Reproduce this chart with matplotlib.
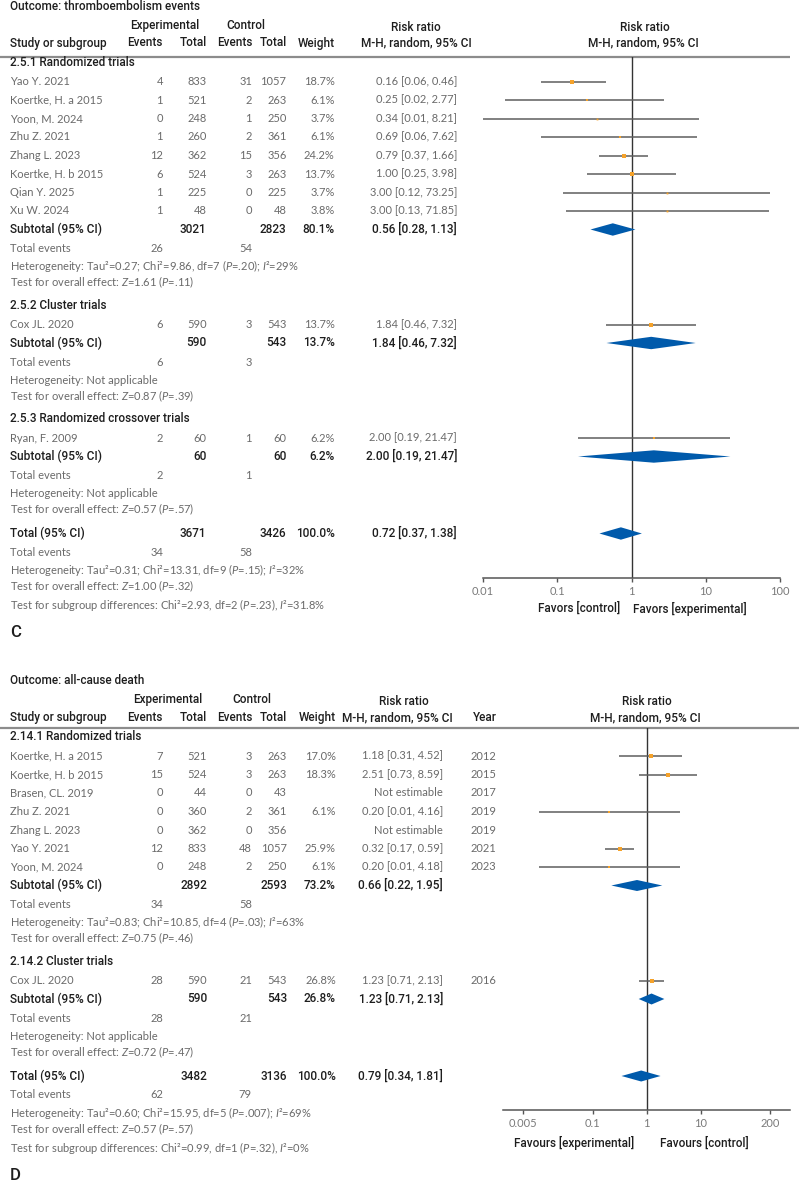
import numpy as np
import matplotlib
matplotlib.use("Agg")
import matplotlib.pyplot as plt

plt.rcParams['mathtext.fontset'] = 'custom'
plt.rcParams['mathtext.rm'] = 'Lato:weight=normal'
plt.rcParams['mathtext.it'] = 'Lato:style=italic:weight=normal'
plt.rcParams['mathtext.bf'] = 'Lato:weight=bold'

# ---------------- Panel C: thromboembolism events ----------------
c_outcome = "Outcome: thromboembolism events"
c_subgroups = ["2.5.1 Randomized trials", "2.5.2 Cluster trials", "2.5.3 Randomized crossover trials"]
c_group_sizes = [8, 1, 1]
c_studies = ["Yao Y. 2021", "Koertke, H. a 2015", "Yoon, M. 2024", "Zhu Z. 2021", "Zhang L. 2023",
             "Koertke, H. b 2015", "Qian Y. 2025", "Xu W. 2024", "Cox JL. 2020", "Ryan, F. 2009"]
c_exp_events = [4, 1, 0, 1, 12, 6, 1, 1, 6, 2]
c_exp_total = [833, 521, 248, 260, 362, 524, 225, 48, 590, 60]
c_ctl_events = [31, 2, 1, 2, 15, 3, 0, 0, 3, 1]
c_ctl_total = [1057, 263, 250, 361, 356, 263, 225, 48, 543, 60]
c_weight = [18.7, 6.1, 3.7, 6.1, 24.2, 13.7, 3.7, 3.8, 13.7, 6.2]
c_rr = [0.16, 0.25, 0.34, 0.69, 0.79, 1.00, 3.00, 3.00, 1.84, 2.00]
c_lo = [0.06, 0.02, 0.01, 0.06, 0.37, 0.25, 0.12, 0.13, 0.46, 0.19]
c_hi = [0.46, 2.77, 8.21, 7.62, 1.66, 3.98, 73.25, 71.85, 7.32, 21.47]
c_sub_exp_events = [26, 6, 2]
c_sub_ctl_events = [54, 3, 1]
c_sub_exp_total = [3021, 590, 60]
c_sub_ctl_total = [2823, 543, 60]
c_sub_weight = [80.1, 13.7, 6.2]
c_sub_rr = [0.56, 1.84, 2.00]
c_sub_lo = [0.28, 0.46, 0.19]
c_sub_hi = [1.13, 7.32, 21.47]
c_sub_het = ["Heterogeneity: Tau²=0.27; Chi²=9.86, df=7 ($P$=.20); $I$²=29%",
             "Heterogeneity: Not applicable", "Heterogeneity: Not applicable"]
c_sub_z = ["Test for overall effect: $Z$=1.61 ($P$=.11)",
           "Test for overall effect: $Z$=0.87 ($P$=.39)",
           "Test for overall effect: $Z$=0.57 ($P$=.57)"]
c_tot = [34, 3671, 58, 3426, 100.0, 0.72, 0.37, 1.38]
c_tot_het = "Heterogeneity: Tau²=0.31; Chi²=13.31, df=9 ($P$=.15); $I$²=32%"
c_tot_z = "Test for overall effect: $Z$=1.00 ($P$=.32)"
c_tot_sub = "Test for subgroup differences: Chi²=2.93, df=2 ($P$=.23), $I$²=31.8%"
c_ticks = [0.01, 0.1, 1, 10, 100]
c_tick_labels = ["0.01", "0.1", "1", "10", "100"]
c_favours = ["Favors [control]", "Favors [experimental]"]

# ---------------- Panel D: all-cause death ----------------
d_outcome = "Outcome: all-cause death"
d_subgroups = ["2.14.1 Randomized trials", "2.14.2 Cluster trials"]
d_group_sizes = [7, 1]
d_studies = ["Koertke, H. a 2015", "Koertke, H. b 2015", "Brasen, CL. 2019", "Zhu Z. 2021",
             "Zhang L. 2023", "Yao Y. 2021", "Yoon, M. 2024", "Cox JL. 2020"]
d_exp_events = [7, 15, 0, 0, 0, 12, 0, 28]
d_exp_total = [521, 524, 44, 360, 362, 833, 248, 590]
d_ctl_events = [3, 3, 0, 2, 0, 48, 2, 21]
d_ctl_total = [263, 263, 43, 361, 356, 1057, 250, 543]
d_weight = [17.0, 18.3, np.nan, 6.1, np.nan, 25.9, 6.1, 26.8]
d_rr = [1.18, 2.51, np.nan, 0.20, np.nan, 0.32, 0.20, 1.23]
d_lo = [0.31, 0.73, np.nan, 0.01, np.nan, 0.17, 0.01, 0.71]
d_hi = [4.52, 8.59, np.nan, 4.16, np.nan, 0.59, 4.18, 2.13]
d_year = [2012, 2015, 2017, 2019, 2019, 2021, 2023, 2016]
d_sub_exp_events = [34, 28]
d_sub_ctl_events = [58, 21]
d_sub_exp_total = [2892, 590]
d_sub_ctl_total = [2593, 543]
d_sub_weight = [73.2, 26.8]
d_sub_rr = [0.66, 1.23]
d_sub_lo = [0.22, 0.71]
d_sub_hi = [1.95, 2.13]
d_sub_het = ["Heterogeneity: Tau²=0.83; Chi²=10.85, df=4 ($P$=.03); $I$²=63%",
             "Heterogeneity: Not applicable"]
d_sub_z = ["Test for overall effect: $Z$=0.75 ($P$=.46)",
           "Test for overall effect: $Z$=0.72 ($P$=.47)"]
d_tot = [62, 3482, 79, 3136, 100.0, 0.79, 0.34, 1.81]
d_tot_het = "Heterogeneity: Tau²=0.60; Chi²=15.95, df=5 ($P$=.007); $I$²=69%"
d_tot_z = "Test for overall effect: $Z$=0.57 ($P$=.57)"
d_tot_sub = "Test for subgroup differences: Chi²=0.99, df=1 ($P$=.32), $I$²=0%"
d_ticks = [0.005, 0.1, 1, 10, 200]
d_tick_labels = ["0.005", "0.1", "1", "10", "200"]
d_favours = ["Favours [experimental]", "Favours [control]"]

W, H = 799, 1186
BODY = dict(family='Lato', weight='normal', color='#6a6a6a', size=8.0)
HEAD = dict(family='Roboto', weight='medium', color='#1e1e1e', size=8.5)
SQ = '#f5a22a'
DIA = '#005aab'

fig = plt.figure(figsize=(W / 100, H / 100), dpi=100)
bg = fig.add_axes([0, 0, 1, 1])
bg.set_xlim(0, W)
bg.set_ylim(H, 0)
bg.axis('off')


def txt(x, y, s, style, ha='left'):
    bg.text(x, y, s, ha=ha, va='center', **style)


def rr_str(r, lo, hi):
    if np.isnan(r):
        return "Not estimable"
    return f"{r:.2f} [{lo:.2f}, {hi:.2f}]"


def diamond(ax, y, r, lo, hi, h):
    ax.fill([lo, r, hi, r], [y, y - h, y, y + h], color=DIA, lw=0, zorder=3)


def draw_panel(d, lay):
    col = lay['cols']
    txt(10, lay['title'], d['outcome'], HEAD)
    txt(lay['exp_hdr'], lay['h1'], "Experimental", HEAD, ha='center')
    txt(lay['ctl_hdr'], lay['h1'], "Control", HEAD, ha='center')
    txt(lay['rr_hdr'], lay['h1'] + 2, "Risk ratio", HEAD, ha='center')
    txt(lay['mh_hdr'], lay['h2'], "M-H, random, 95% CI", HEAD, ha='center')
    txt(10, lay['h2'], "Study or subgroup", HEAD)
    for key, lab in [('ee', 'Events'), ('et', 'Total'), ('ce', 'Events'), ('ct', 'Total'), ('w', 'Weight')]:
        txt(col[key], lay['h2'], lab, HEAD, ha='right')
    if d['year'] is not None:
        txt(lay['year_x'] + 14, lay['h2'], "Year", HEAD, ha='center')
    l, r, t, b = lay['forest']
    txt(lay['plot_hdr'], lay['h1'] + 2, "Risk ratio", HEAD, ha='center')
    txt(lay['plot_hdr'] - 2, lay['h2'], "M-H, random, 95% CI", HEAD, ha='center')
    bg.hlines(lay['hline'], 0, lay['hline_end'], color='#8c8c8c', lw=1.6)

    fa = fig.add_axes([l / W, 1 - b / H, (r - l) / W, (b - t) / H])
    fa.set_xscale('log')
    fa.set_xlim(*lay['xlim'])
    fa.set_ylim(b, t)
    fa.patch.set_alpha(0)
    for s in ['left', 'right', 'top']:
        fa.spines[s].set_visible(False)
    fa.spines['bottom'].set_color('#555555')
    fa.spines['bottom'].set_linewidth(1.1)
    fa.set_yticks([])
    fa.set_xticks(d['ticks'])
    fa.set_xticklabels(d['tick_labels'])
    fa.minorticks_off()
    fa.tick_params(axis='x', length=3, width=1, color='#555555', pad=3,
                   labelsize=BODY['size'], labelcolor='#7a7a7a')
    for tl in fa.get_xticklabels():
        tl.set_family('Lato')
    fa.axvline(1, color='#333333', lw=1.0, zorder=1)
    txt(lay['fav'][0], lay['fav_y'], d['favours'][0], HEAD, ha='center')
    txt(lay['fav'][1], lay['fav_y'], d['favours'][1], HEAD, ha='center')

    y = lay['sec']
    k = 0
    for g, name in enumerate(d['subgroups']):
        txt(10, y, name, HEAD)
        y += 19
        for i in range(k, k + d['sizes'][g]):
            txt(10, y, d['studies'][i], BODY)
            txt(col['ee'], y, str(d['ee'][i]), BODY, ha='right')
            txt(col['et'], y, str(d['et'][i]), BODY, ha='right')
            txt(col['ce'], y, str(d['ce'][i]), BODY, ha='right')
            txt(col['ct'], y, str(d['ct'][i]), BODY, ha='right')
            if not np.isnan(d['w'][i]):
                txt(col['w'], y, f"{d['w'][i]:.1f}%", BODY, ha='right')
            txt(col['rr'], y, rr_str(d['rr'][i], d['lo'][i], d['hi'][i]), BODY, ha='right')
            if d['year'] is not None:
                txt(lay['year_x'], y, str(d['year'][i]), BODY)
            if not np.isnan(d['rr'][i]):
                fa.hlines(y, d['lo'][i], d['hi'][i], color='#5e5e5e', lw=1.1, zorder=2)
                fa.plot(d['rr'][i], y, 's', color=SQ, mew=0,
                        ms=0.68 * np.sqrt(d['w'][i]), zorder=4)
            y += 18.5
        k += d['sizes'][g]
        txt(10, y, "Subtotal (95% CI)", HEAD)
        txt(col['et'], y, str(d['s_et'][g]), HEAD, ha='right')
        txt(col['ct'], y, str(d['s_ct'][g]), HEAD, ha='right')
        txt(col['w'], y, f"{d['s_w'][g]:.1f}%", HEAD, ha='right')
        txt(col['rr'], y, rr_str(d['s_rr'][g], d['s_lo'][g], d['s_hi'][g]), HEAD, ha='right')
        diamond(fa, y, d['s_rr'][g], d['s_lo'][g], d['s_hi'][g], lay['dh'])
        y += 19
        txt(10, y, "Total events", BODY)
        txt(col['ee'], y, str(d['s_ee'][g]), BODY, ha='right')
        txt(col['ce'], y, str(d['s_ce'][g]), BODY, ha='right')
        y += 18
        txt(10, y, d['s_het'][g], BODY)
        y += 16
        txt(10, y, d['s_z'][g], BODY)
        y += 23
    y += 1
    ee, et, ce, ct, w, rr, lo, hi = d['tot']
    txt(10, y, "Total (95% CI)", HEAD)
    txt(col['et'], y, str(et), HEAD, ha='right')
    txt(col['ct'], y, str(ct), HEAD, ha='right')
    txt(col['w'], y, f"{w:.1f}%", HEAD, ha='right')
    txt(col['rr'], y, rr_str(rr, lo, hi), HEAD, ha='right')
    diamond(fa, y, rr, lo, hi, lay['dh'])
    y += 19
    txt(10, y, "Total events", BODY)
    txt(col['ee'], y, str(ee), BODY, ha='right')
    txt(col['ce'], y, str(ce), BODY, ha='right')
    y += 18
    txt(10, y, d['t_het'], BODY)
    y += 16
    txt(10, y, d['t_z'], BODY)
    y += 18.5
    txt(10, y, d['t_sub'], BODY)
    bg.text(10, y + 27.5, lay['label'], ha='left', va='center', family='Roboto',
            weight='medium', color='#1e1e1e', size=12)


c_data = dict(outcome=c_outcome, subgroups=c_subgroups, sizes=c_group_sizes, studies=c_studies,
              ee=c_exp_events, et=c_exp_total, ce=c_ctl_events, ct=c_ctl_total, w=c_weight,
              rr=c_rr, lo=c_lo, hi=c_hi, year=None,
              s_ee=c_sub_exp_events, s_ce=c_sub_ctl_events, s_et=c_sub_exp_total, s_ct=c_sub_ctl_total,
              s_w=c_sub_weight, s_rr=c_sub_rr, s_lo=c_sub_lo, s_hi=c_sub_hi, s_het=c_sub_het, s_z=c_sub_z,
              tot=c_tot, t_het=c_tot_het, t_z=c_tot_z, t_sub=c_tot_sub,
              ticks=c_ticks, tick_labels=c_tick_labels, favours=c_favours)
d_data = dict(outcome=d_outcome, subgroups=d_subgroups, sizes=d_group_sizes, studies=d_studies,
              ee=d_exp_events, et=d_exp_total, ce=d_ctl_events, ct=d_ctl_total, w=d_weight,
              rr=d_rr, lo=d_lo, hi=d_hi, year=d_year,
              s_ee=d_sub_exp_events, s_ce=d_sub_ctl_events, s_et=d_sub_exp_total, s_ct=d_sub_ctl_total,
              s_w=d_sub_weight, s_rr=d_sub_rr, s_lo=d_sub_lo, s_hi=d_sub_hi, s_het=d_sub_het, s_z=d_sub_z,
              tot=d_tot, t_het=d_tot_het, t_z=d_tot_z, t_sub=d_tot_sub,
              ticks=d_ticks, tick_labels=d_tick_labels, favours=d_favours)

c_layout = dict(title=7, h1=25.5, h2=43, hline=56.5, hline_end=790, sec=62.5,
                cols=dict(ee=163, et=206.5, ce=252, ct=286.5, w=334.5, rr=457),
                exp_hdr=165, ctl_hdr=246, rr_hdr=416, mh_hdr=416, plot_hdr=645,
                forest=(483, 780, 56.5, 578), xlim=(0.01, 100), dh=6.2,
                fav=(579, 690), fav_y=608.5, label="C")
d_one, d_dec = 646.7, 53.8
d_layout = dict(title=680, h1=699.5, h2=717.5, hline=728.3, hline_end=799, sec=737,
                cols=dict(ee=163, et=207, ce=252, ct=287, w=336, rr=443),
                exp_hdr=168, ctl_hdr=252, rr_hdr=404, mh_hdr=397, plot_hdr=647, year_x=471,
                forest=(503, 790, 728.3, 1110),
                xlim=(10 ** ((503 - d_one) / d_dec), 10 ** ((790 - d_one) / d_dec)), dh=5.5,
                fav=(574, 704), fav_y=1143, label="D")

draw_panel(c_data, c_layout)
draw_panel(d_data, d_layout)

fig.savefig("out.png", dpi=100)
